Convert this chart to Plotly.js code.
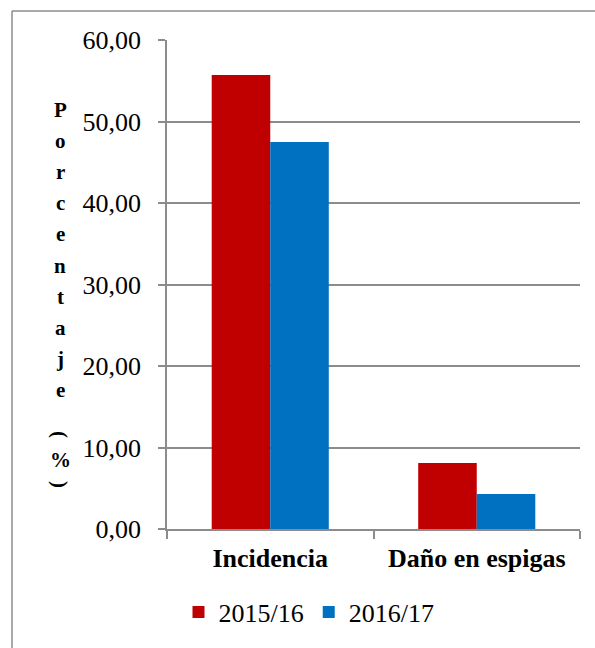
<!DOCTYPE html>
<html>
<head>
<meta charset="utf-8">
<script src="https://cdn.plot.ly/plotly-3.0.1.min.js"></script>
</head>
<body style="margin:0; background:#fff">
<div id="chart"></div>
<script>
// Porcentaje de incidencia y daño en espigas por campaña
const categories = ['Incidencia', 'Daño en espigas'];
const seasons = ['2015/16', '2016/17'];
const values2015 = [55.7, 8.1];
const values2016 = [47.5, 4.3];
const seriesColors = ['#C00000', '#0070C0'];
const yTitleLetters = ['P', 'o', 'r', 'c', 'e', 'n', 't', 'a', 'j', 'e'];

const W = 595, H = 648;
const M = { l: 167, r: 15, t: 40, b: 119 };
const plotW = W - M.l - M.r;
const plotH = H - M.t - M.b;
// pixel -> paper coordinate helpers for decorations in the margins
const px = x => (x - M.l) / plotW;
const py = y => (H - M.b - y) / plotH;

const serif = 'Times New Roman';
const gray = '#8c8c8c';

const traces = [values2015, values2016].map((vals, i) => ({
  type: 'bar',
  name: seasons[i],
  x: categories,
  y: vals,
  marker: { color: seriesColors[i], line: { width: 0 } },
  hoverinfo: 'x+y+name'
}));

// stacked vertical axis title
const annotations = yTitleLetters.map((ch, i) => ({
  text: '<b>' + ch + '</b>',
  xref: 'paper', yref: 'paper',
  x: px(60), y: py(110 + i * 31.1),
  xanchor: 'center', yanchor: 'middle',
  showarrow: false,
  font: { family: serif, size: 21, color: '#000' }
}));
[['(', 434, 90], ['%', 460, 0], [')', 484, 90]].forEach(([ch, y, ang]) => {
  annotations.push({
    text: '<b>' + ch + '</b>',
    xref: 'paper', yref: 'paper',
    x: px(60), y: py(y),
    xanchor: 'center', yanchor: 'middle',
    textangle: ang,
    showarrow: false,
    font: { family: serif, size: 21, color: '#000' }
  });
});

const layout = {
  width: W, height: H,
  margin: M,
  font: { family: serif, size: 26, color: '#000' },
  paper_bgcolor: '#fff',
  plot_bgcolor: '#fff',
  separators: ',.',
  barmode: 'group',
  bargap: 0.433,
  bargroupgap: 0,
  showlegend: true,
  legend: {
    orientation: 'h',
    x: px(309), y: py(612),
    xanchor: 'center', yanchor: 'middle',
    font: { family: serif, size: 26, color: '#000' },
    itemwidth: 30,
    traceorder: 'normal'
  },
  xaxis: {
    type: 'category',
    showline: true, linecolor: gray, linewidth: 1.5,
    ticks: 'outside', tickson: 'boundaries', ticklen: 8, tickcolor: gray, tickwidth: 1.5,
    showgrid: false,
    tickfont: { family: serif, size: 26, color: '#000', weight: 'bold' },
    ticklabelstandoff: 5
  },
  yaxis: {
    range: [0, 60],
    dtick: 10,
    tickformat: '.2f',
    showline: true, linecolor: gray, linewidth: 1.5,
    ticks: 'outside', ticklen: 7, tickcolor: gray, tickwidth: 1.5,
    showgrid: true, gridcolor: gray, gridwidth: 1.5,
    zeroline: false,
    tickfont: { family: serif, size: 26, color: '#000' },
    ticklabelstandoff: 12
  },
  shapes: [
    // chart frame (left and top edges)
    { type: 'line', xref: 'paper', yref: 'paper', x0: px(12), x1: px(12), y0: py(11), y1: py(660),
      line: { color: gray, width: 1.5 } },
    { type: 'line', xref: 'paper', yref: 'paper', x0: px(12), x1: px(610), y0: py(11), y1: py(11),
      line: { color: gray, width: 1.5 } }
  ],
  annotations: annotations
};

Plotly.newPlot('chart', traces, layout, { displayModeBar: false });
</script>
</body>
</html>
